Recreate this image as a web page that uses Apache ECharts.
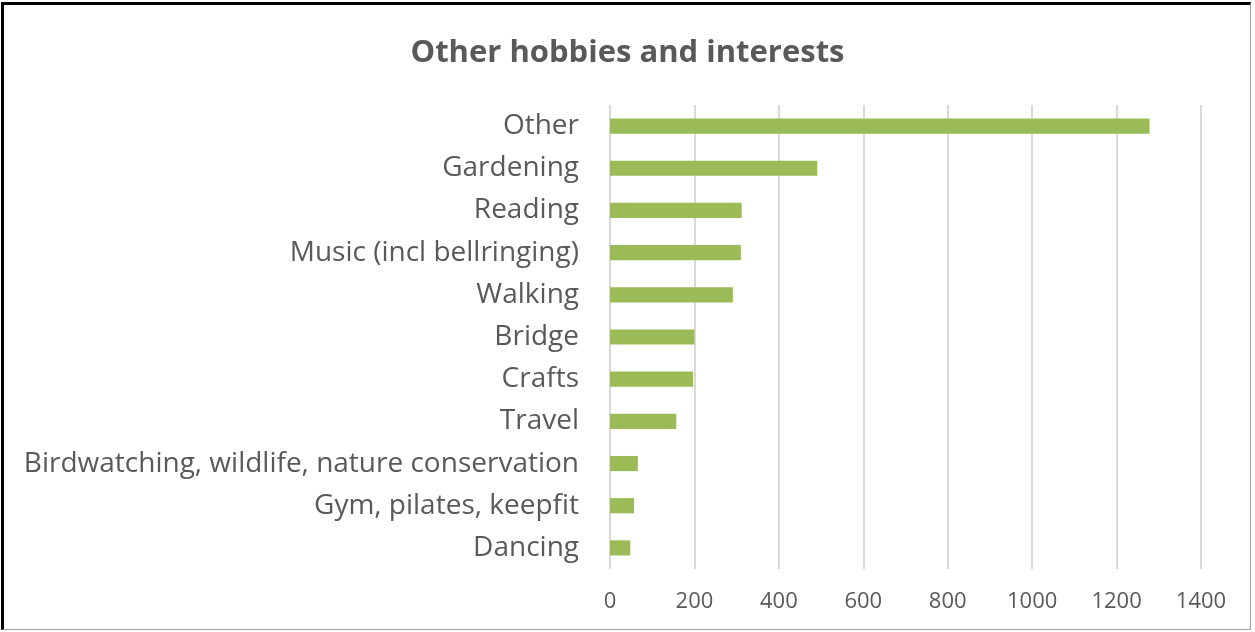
<!DOCTYPE html>
<html>
<head>
<meta charset="utf-8">
<script src="https://cdn.jsdelivr.net/npm/echarts@6/dist/echarts.min.js"></script>
<style>
  html, body { margin: 0; padding: 0; background: #fff; }
  #chart { width: 1255px; height: 632px; }
  #frame {
    position: absolute; left: 1px; top: 2px; width: 1250px; height: 628px;
    border-top: 3px solid #000; border-left: 3px solid #000;
    border-right: 1px solid #a0a0a0; border-bottom: 1px solid #a0a0a0;
    box-sizing: border-box; pointer-events: none;
  }
</style>
</head>
<body>
<div id="chart"></div>
<div id="frame"></div>
<script>
// hobbies, listed top to bottom as in the picture
var hobbies = ["Other", "Gardening", "Reading", "Music (incl bellringing)", "Walking",
    "Bridge", "Crafts", "Travel", "Birdwatching, wildlife, nature conservation",
    "Gym, pilates, keepfit", "Dancing"];
var counts = [1278, 491, 312, 310, 291, 200, 197, 157, 66, 57, 48];
var ticks = [0, 200, 400, 600, 800, 1000, 1200, 1400];

var chart = echarts.init(document.getElementById("chart"));
var option = {
    animation: false,
    backgroundColor: "#fff",
    title: {
        text: "Other hobbies and interests",
        left: "center",
        top: 33,
        textStyle: { fontFamily: "Open Sans", fontWeight: "bold", fontSize: 31, color: "#595959" }
    },
    grid: { left: 610, right: 54, top: 105, bottom: 63 },
    xAxis: {
        type: "value",
        min: ticks[0],
        max: ticks[ticks.length - 1],
        interval: ticks[1] - ticks[0],
        axisLine: { show: false },
        axisTick: { show: false },
        axisLabel: {
            fontFamily: "Open Sans", fontSize: 22, color: "#595959", margin: 22,
            formatter: function (v) { return String(v); }
        },
        splitLine: { show: true, lineStyle: { color: "#d9d9d9", width: 2 } }
    },
    yAxis: {
        type: "category",
        inverse: true,
        data: hobbies,
        axisLine: { show: false },
        axisTick: { show: false },
        axisLabel: { fontFamily: "Open Sans", fontSize: 28, color: "#595959", margin: 31 }
    },
    series: [{
        type: "bar",
        data: counts,
        barWidth: "36%",
        itemStyle: { color: "#9bbb59" }
    }]
};
chart.setOption(option);
</script>
</body>
</html>
